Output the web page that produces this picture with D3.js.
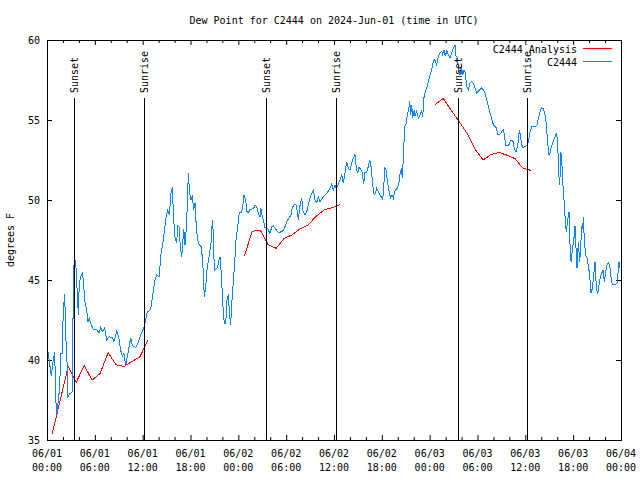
<!DOCTYPE html>
<html><head><meta charset="utf-8">
<script src="https://cdn.jsdelivr.net/npm/d3@7"></script>
<style>
body{margin:0;background:#fff}
svg{display:block}
text{font-family:"DejaVu Sans Mono",monospace;font-size:10px;fill:#000}
</style>
</head><body><svg id="c" width="640" height="480"></svg>
<script>
// ---------- data (hours since 2024-06-01 00:00 UTC) ----------
const obsHours = [
0.13,0.54,0.79,0.97,1.09,1.22,1.38,1.59,1.72,1.92,2.04,2.22,2.35,2.47,2.63,2.89,3.17,3.30,3.42,3.60,
3.80,3.93,4.05,4.23,4.43,4.55,4.73,4.98,5.14,5.31,5.48,5.81,6.23,6.52,6.74,6.94,7.24,7.49,7.78,8.19,
8.40,8.74,9.03,9.24,9.45,9.66,9.87,10.07,10.29,10.50,10.70,11.13,11.41,11.75,12.17,12.58,12.92,13.08,13.29,13.55,
13.76,14.05,14.30,14.59,14.89,15.14,15.34,15.55,15.72,15.89,16.06,16.27,16.39,16.56,16.72,16.90,17.15,17.31,17.47,17.65,
17.72,17.90,18.06,18.23,18.40,18.57,18.73,18.90,19.10,19.32,19.48,19.61,19.73,19.91,20.07,20.32,20.57,20.74,20.86,20.99,
21.20,21.41,21.58,21.70,21.83,21.99,22.12,22.24,22.42,22.58,22.74,22.92,23.04,23.17,23.33,23.50,23.71,23.92,24.12,24.34,
24.50,24.71,24.92,25.09,25.25,25.46,25.68,25.93,26.09,26.30,26.50,26.72,26.84,27.00,27.18,27.34,
27.68,27.97,28.19,28.39,28.69,29.01,29.44,29.64,29.85,30.07,30.36,30.61,30.77,31.02,31.23,31.40,31.53,31.70,31.95,32.11,
32.36,32.58,32.78,32.99,33.20,33.40,33.62,33.83,34.03,34.24,34.46,34.66,34.87,35.08,35.37,35.59,35.71,35.91,36.13,36.29,
36.47,36.75,36.97,37.17,37.38,37.59,37.80,38.01,38.22,38.42,38.63,38.80,38.97,39.14,39.35,39.55,39.72,39.88,40.10,40.30,
40.48,40.64,40.81,40.98,41.14,41.36,41.56,41.77,42.06,
42.19,42.36,42.52,42.69,42.94,43.11,43.28,43.44,43.62,43.78,43.94,44.12,44.28,44.45,44.57,44.69,44.87,45.03,45.20,45.37,
45.50,45.62,45.75,45.87,46.04,46.16,46.37,46.58,46.79,47.00,47.12,47.29,47.46,47.63,47.84,48.05,48.26,48.46,48.67,48.88,
49.08,49.30,49.51,49.63,49.80,49.96,50.14,50.34,50.55,50.76,50.97,51.18,51.31,51.47,51.64,51.81,51.97,52.14,52.31,52.47,
52.65,52.85,53.06,53.27,53.48,53.69,53.90,54.10,54.31,54.52,54.73,54.94,55.15,55.35,55.56,55.78,55.98,56.19,
56.40,56.53,56.82,57.03,57.24,57.37,57.54,57.79,57.96,58.21,58.42,58.62,58.84,59.05,59.26,59.43,59.63,59.88,60.17,60.38,
60.59,60.80,61.00,61.30,61.46,61.63,61.84,62.06,62.26,62.38,62.56,62.68,62.81,62.97,63.10,63.22,63.39,63.57,63.73,63.89,
64.07,64.15,64.32,64.45,64.57,64.65,64.77,64.90,65.02,65.15,65.32,65.49,65.62,65.74,65.91,66.08,66.23,66.36,66.48,66.65,
66.82,66.95,67.07,67.20,67.28,67.40,67.57,67.74,67.90,68.07,68.24,68.41,68.57,68.74,68.91,69.08,69.24,69.41,69.58,69.74,
69.91,70.08,70.25,70.41,70.58,70.74,70.91,71.25,71.50,71.75,71.87
];
const obsDew = [
40.5,39.0,40.0,40.5,37.6,36.6,37.3,38.3,40.4,40.4,43.1,44.1,41.4,40.6,37.7,37.9,38.0,44.4,46.45,46.1,
44.2,42.8,44.8,45.2,45.4,45.0,43.75,43.1,42.4,42.6,42.3,41.9,41.9,41.7,42.04,41.77,42.0,41.25,41.46,41.4,
41.15,41.8,41.35,40.6,40.25,40.4,39.6,40.2,40.8,41.4,40.9,40.8,41.04,41.56,42.06,43.0,43.1,43.4,44.17,45.0,
45.3,45.2,46.6,47.5,48.75,49.4,49.06,50.4,50.8,48.75,47.7,47.3,48.4,48.3,47.1,46.45,48.2,47.2,48.2,50.2,
51.7,50.4,50.0,50.2,49.4,49.8,48.3,47.5,47.2,47.1,46.45,45.4,43.95,44.6,45.6,46.45,47.3,48.75,47.9,45.6,
45.7,45.8,46.25,46.45,45.6,44.2,42.9,42.3,42.3,43.75,44.1,42.7,42.2,43.5,44.6,45.8,47.5,48.33,49.2,49.2,
49.4,50.3,50.0,49.27,49.2,49.4,49.42,49.48,49.7,49.58,49.17,48.96,49.48,49.0,48.65,48.3,
48.23,47.9,48.33,48.4,48.17,47.96,48.02,48.1,48.33,48.65,48.9,49.06,49.54,49.7,49.7,49.27,48.75,49.58,50.1,49.3,
49.06,49.27,49.69,50.1,50.42,50.6,50.0,49.83,50.21,49.9,50.04,50.2,50.3,50.4,50.63,50.8,51.04,50.6,50.94,50.73,
50.9,51.25,51.6,51.04,51.67,52.4,51.98,51.88,52.33,52.6,52.85,51.98,51.67,52.08,51.9,51.7,51.0,51.7,51.7,52.1,
52.5,52.1,51.25,50.4,50.35,50.73,50.52,50.3,50.1,
50.33,52.0,51.9,51.2,50.44,50.12,50.33,50.12,50.54,50.65,50.75,50.96,51.6,52.0,51.38,52.6,54.6,54.71,55.33,55.65,
56.2,55.3,55.96,55.12,55.6,55.23,55.54,55.1,55.3,55.6,55.2,56.4,56.79,57.0,57.4,57.83,58.15,58.67,58.77,58.46,
58.98,59.19,59.29,59.1,59.4,58.98,59.33,59.1,58.88,59.2,59.5,59.7,59.0,58.9,58.04,57.8,58.46,57.8,58.1,57.94,
57.1,56.9,57.31,57.4,57.3,57.0,56.7,56.79,56.9,57.0,56.9,56.69,56.27,55.85,55.44,55.1,54.71,54.6,
54.48,54.1,54.1,54.27,54.4,54.06,53.4,53.4,53.48,53.75,53.75,53.23,53.0,53.44,54.4,53.85,53.27,53.33,53.4,53.65,
54.27,54.6,54.6,54.6,54.69,55.1,55.52,55.77,55.7,55.5,55.1,54.38,53.5,52.8,52.92,53.23,53.5,53.75,53.96,54.2,
53.65,51.8,50.94,53.02,52.5,51.56,50.52,49.7,48.6,48.0,48.75,49.27,46.98,46.1,47.0,47.5,48.4,47.0,45.73,47.4,
46.1,47.19,48.33,48.23,48.96,47.4,46.56,46.35,45.9,45.31,44.2,44.48,45.3,46.1,44.5,44.1,44.69,45.21,45.42,45.62,
44.9,45.52,45.94,46.1,45.94,45.21,44.69,44.7,44.79,46.1,45.73
];
const analysisHours = [
0.66,1.66,2.66,3.66,4.66,5.66,6.66,7.66,8.66,9.66,10.66,11.66,12.66, null,
24.75,25.75,26.75,27.75,28.75,29.75,30.75,31.75,32.75,33.75,34.75,35.75,36.75, null,
48.71,49.71,50.71,51.71,52.71,53.71,54.71,55.71,56.71,57.71,58.71,59.71,60.71
];
const analysisDew = [
35.4,37.5,39.6,38.6,39.65,38.75,39.15,40.46,39.7,39.6,39.9,40.2,41.25, null,
46.5,48.05,48.12,47.2,46.98,47.6,47.82,48.2,48.45,48.97,49.38,49.52,49.7, null,
55.97,56.35,55.6,54.9,54.15,53.15,52.5,52.85,52.97,52.8,52.58,51.98,51.85
];
const sunHours  = [3.43, 12.20, 27.47, 36.29, 51.60, 60.25];
const sunLabels = ["Sunset","Sunrise","Sunset","Sunrise","Sunset","Sunrise"];
const yTicks = [35,40,45,50,55,60];
const xMajorHours = [0,6,12,18,24,30,36,42,48,54,60,66,72];
const titleText = "Dew Point for C2444 on 2024-Jun-01 (time in UTC)";
const yLabel = "degrees F";
const seriesNames = ["C2444 Analysis","C2444"];
const seriesColors = ["#ff0000","#0a84ff"];

// ---------- chart ----------
const t0 = Date.UTC(2024,5,1);
const toDate = h => new Date(t0 + h*3600000);
const L=47,R=621,T=40,B=440;
const x = d3.scaleUtc().domain([toDate(0),toDate(72)]).range([L,R]);
const y = d3.scaleLinear().domain([35,60]).range([B,T]);
const svg = d3.select("#c");
svg.append("rect").attr("width",640).attr("height",480).attr("fill","#fff");

const majorX = xMajorHours.map(toDate);
const minorX = d3.range(0,73,2).filter(h=>h%6!==0).map(toDate);
const noDom = g=>{g.select(".domain").remove(); g.selectAll("line").attr("stroke","#000");};
svg.append("g").attr("transform",`translate(0,${B})`).call(d3.axisBottom(x).tickValues(majorX).tickSize(-5).tickFormat("")).call(noDom);
svg.append("g").attr("transform",`translate(0,${B})`).call(d3.axisBottom(x).tickValues(minorX).tickSize(-3).tickFormat("")).call(noDom);
svg.append("g").attr("transform",`translate(0,${T})`).call(d3.axisTop(x).tickValues(majorX).tickSize(-5).tickFormat("")).call(noDom);
svg.append("g").attr("transform",`translate(0,${T})`).call(d3.axisTop(x).tickValues(minorX).tickSize(-3).tickFormat("")).call(noDom);
const gl = svg.append("g").attr("transform",`translate(${L},0)`).call(d3.axisLeft(y).tickValues(yTicks).tickSize(-5).tickPadding(7)).call(noDom);
gl.selectAll("text").attr("font-family",null).attr("font-size",null).style("fill","#000");
gl.attr("font-family",null).attr("font-size",null);
svg.append("g").attr("transform",`translate(${R},0)`).call(d3.axisRight(y).tickValues(yTicks).tickSize(-5).tickFormat("")).call(noDom);

// x labels (two lines)
const fmtD = d3.utcFormat("%m/%d"), fmtT = d3.utcFormat("%H:%M");
const xl = svg.append("g");
majorX.forEach(d=>{
  const t = xl.append("text").attr("text-anchor","middle");
  t.append("tspan").attr("x",x(d)).attr("y",457).text(fmtD(d));
  t.append("tspan").attr("x",x(d)).attr("y",471).text(fmtT(d));
});

// frame
svg.append("rect").attr("x",L+0.5).attr("y",T+0.5).attr("width",R-L).attr("height",B-T)
  .attr("fill","none").attr("stroke","#000").attr("stroke-width",1).attr("shape-rendering","crispEdges");

// title and y label
svg.append("text").attr("x",334).attr("y",24).attr("text-anchor","middle").text(titleText);
svg.append("text").attr("transform","translate(14,240) rotate(-90)").attr("text-anchor","middle").text(yLabel);

// data lines
const line = d3.line().defined(d=>d[1]!=null && d[0]!=null).x(d=>x(toDate(d[0]))).y(d=>y(d[1]));
svg.append("path").datum(d3.zip(analysisHours,analysisDew)).attr("d",line)
  .attr("fill","none").attr("stroke",seriesColors[0]).attr("stroke-width",1).attr("shape-rendering","crispEdges");
svg.append("path").datum(d3.zip(obsHours,obsDew)).attr("d",line)
  .attr("fill","none").attr("stroke",seriesColors[1]).attr("stroke-width",1).attr("shape-rendering","crispEdges");

// sunrise / sunset markers
sunHours.forEach((h,i)=>{
  const xx = Math.round(x(toDate(h)))+0.5;
  svg.append("line").attr("x1",xx).attr("x2",xx).attr("y1",98).attr("y2",B)
    .attr("stroke","#000").attr("stroke-width",1).attr("shape-rendering","crispEdges");
  svg.append("text").attr("transform",`translate(${xx},93) rotate(-90)`).attr("dy","0.35em").text(sunLabels[i]);
});

// legend
seriesNames.forEach((n,i)=>{
  const yy = 49 + i*13;
  svg.append("text").attr("x",577).attr("y",yy+4).attr("text-anchor","end").text(n);
  svg.append("line").attr("x1",583).attr("x2",612).attr("y1",yy-0.5).attr("y2",yy-0.5)
    .attr("stroke",seriesColors[i]).attr("stroke-width",1).attr("shape-rendering","crispEdges");
});
</script>
</body></html>
